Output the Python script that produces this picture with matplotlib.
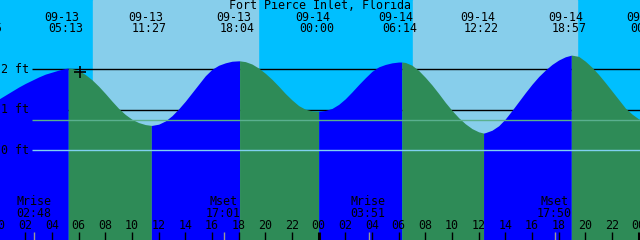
import numpy as np
import matplotlib
matplotlib.use("Agg")
from matplotlib import pyplot as plt
import matplotlib.transforms as mtransforms

# hours from 09-13 00:00
title = "Fort Pierce Inlet, Florida"

# half-hourly tide heights (ft), hours 0..48
hours = [i * 0.5 for i in range(97)]
height = [1.26, 1.36, 1.46, 1.56, 1.65, 1.73, 1.81, 1.88, 1.93, 1.98,
          2.02, 2.02, 1.97, 1.87, 1.74, 1.58, 1.40, 1.21, 1.03, 0.88,
          0.76, 0.68, 0.63, 0.61, 0.64, 0.72, 0.85, 1.02, 1.21, 1.42,
          1.63, 1.84, 2.00, 2.10, 2.16, 2.20, 2.21, 2.19, 2.13, 2.03,
          1.90, 1.75, 1.58, 1.40, 1.24, 1.10, 1.01, 0.97, 0.96, 0.98,
          1.03, 1.13, 1.27, 1.44, 1.62, 1.79, 1.95, 2.06, 2.12, 2.16,
          2.18, 2.17, 2.10, 1.97, 1.80, 1.61, 1.40, 1.18, 0.98, 0.80,
          0.65, 0.53, 0.45, 0.43, 0.49, 0.60, 0.77, 0.98, 1.20, 1.42,
          1.63, 1.82, 1.98, 2.12, 2.23, 2.31, 2.35, 2.32, 2.20, 2.05,
          1.87, 1.67, 1.46, 1.25, 1.04, 0.89, 0.77]

# high / low tides
ext_time = [-0.917, 5.217, 11.45, 18.067, 24.0, 30.233, 36.367, 42.95, 48.833]
ext_level = [1.20, 2.03, 0.61, 2.21, 0.96, 2.18, 0.42, 2.35, 0.68]
ext_kind = ["L", "H", "L", "H", "L", "H", "L", "H", "L"]
ext_date = ["09-12", "09-13", "09-13", "09-13", "09-14", "09-14", "09-14", "09-14", "09-15"]
ext_clock = ["23:05", "05:13", "11:27", "18:04", "00:00", "06:14", "12:22", "18:57", "00:50"]

# sun and moon
sunrise = [7.07, 31.07]
sunset = [19.45, 43.37]
moon_time = [2.8, 17.017, 27.85, 41.833]
moon_kind = ["Mrise", "Mset", "Mrise", "Mset"]
moon_clock = ["02:48", "17:01", "03:51", "17:50"]

ft_lines = [2, 1]
msl = 0.74

tick_hours = list(range(0, 49, 2))
tick_text = ["%02d" % (h % 24) for h in tick_hours]

# ---------------------------------------------------------------
W, H = 640, 240
px_hour = 40.0 / 3.0
x0 = 0.1
ft0_px, px_ft = 150.0, 40.35
ybot = -(H - ft0_px) / px_ft
ytop = ft0_px / px_ft

plt.rcParams["font.family"] = ["DejaVu Sans Mono"]
fs = 8.4

fig = plt.figure(figsize=(6.4, 2.4), dpi=100)
ax = fig.add_axes([0, 0, 1, 1])
ax.set_xlim(x0, x0 + W / px_hour)
ax.set_ylim(ybot, ytop)
ax.axis("off")

def px2h(px):
    return x0 + px / px_hour

def yfrac(py):
    return 1 - py / H

ax.axvspan(-5, 60, color="#00BFFF", zorder=0)
for a, b in zip(sunrise, sunset):
    ax.axvspan(a, b, color="#87CEEB", zorder=0.5)

for lv in ft_lines:
    ax.hlines(lv, px2h(32), px2h(W), color="black", lw=1, zorder=1)

# tide curve, split rising / falling
t_all = np.array(hours + ext_time, dtype=float)
h_all = np.array(height + ext_level, dtype=float)
order = np.argsort(t_all)
t_all, h_all = t_all[order], h_all[order]
for i in range(len(ext_time) - 1):
    m = (t_all >= ext_time[i]) & (t_all <= ext_time[i + 1])
    col = "#0000FF" if ext_kind[i] == "L" else "#2E8B57"
    ax.fill_between(t_all[m], h_all[m], ybot - 1, color=col, lw=0, zorder=2)

ax.hlines(msl, px2h(32), px2h(W), color="#5AB08F", lw=1, zorder=3)
ax.hlines(0, px2h(32), px2h(W), color="#80D0F0", lw=1, zorder=3)

trans = mtransforms.blended_transform_factory(ax.transData, ax.transAxes)
ptrans = mtransforms.blended_transform_factory(ax.transAxes, ax.transData)

for lv in [2, 1, 0]:
    ax.text(1 / W, lv, "%d ft" % lv, transform=ptrans, ha="left", va="center",
            fontsize=fs, zorder=5)

ax.text(0.5, yfrac(5.5), title, transform=ax.transAxes, ha="center", va="center",
        fontsize=fs, zorder=5)
for t, d, c in zip(ext_time, ext_date, ext_clock):
    ax.text(t - 6 / px_hour, yfrac(17.5), d, transform=trans, ha="center",
            va="center", fontsize=fs, zorder=5)
    ax.text(t - 2 / px_hour, yfrac(29), c, transform=trans, ha="center",
            va="center", fontsize=fs, zorder=5)

ax.plot([px2h(80)], [1.93], marker="+", ms=9, mew=1.2, color="black", zorder=6)

for t, k, c in zip(moon_time, moon_kind, moon_clock):
    ax.text(t - 2 / px_hour, yfrac(201.5), k, transform=trans, ha="center",
            va="center", fontsize=fs, zorder=5)
    ax.text(t - 2 / px_hour, yfrac(213.5), c, transform=trans, ha="center",
            va="center", fontsize=fs, zorder=5)
    ax.vlines(t - 1.5 / px_hour, 0, yfrac(232), transform=trans, color="#9a9a9a",
              lw=1, zorder=4)

for t, s in zip(tick_hours, tick_text):
    ax.text(t, yfrac(225.5), s, transform=trans, ha="center", va="center",
            fontsize=fs, zorder=5)
    lw = 2.2 if (t % 24 == 0 and t > 0) else 1
    ax.vlines(t, 0, yfrac(232), transform=trans, color="black", lw=lw, zorder=4)

fig.savefig("out.png", dpi=100)
